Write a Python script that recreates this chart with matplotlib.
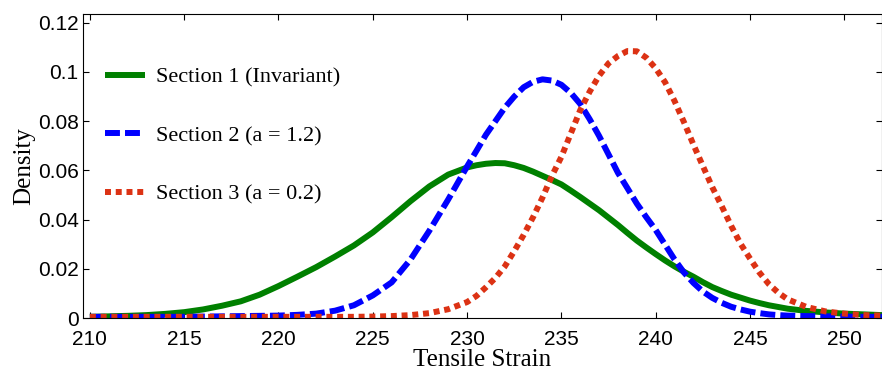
"""Density curves of tensile strain for three sections."""
import matplotlib
matplotlib.use("Agg")
import matplotlib.pyplot as plt
from matplotlib.ticker import FuncFormatter

# sample positions along the strain axis (finer near the peaks) and densities
strain = [210, 211, 212, 213, 214, 215, 216, 217, 218, 219,
          220, 221, 222, 223, 224, 225, 226, 227, 228, 229,
          230, 230.5, 231, 231.5, 232, 232.5, 233, 233.5, 234, 234.5,
          235, 235.5, 236, 236.5, 237, 237.5, 238, 238.5, 239, 239.5,
          240, 240.5, 241, 241.5, 242, 242.5, 243, 243.5, 244, 244.5,
          245, 245.5, 246, 246.5, 247,
          248, 249, 250, 251, 252]
section1 = [0.0005, 0.0007, 0.0009, 0.0012, 0.0017, 0.0024, 0.0035, 0.0050, 0.0068, 0.0095,
            0.0130, 0.0168, 0.0207, 0.0250, 0.0295, 0.0348, 0.0410, 0.0475, 0.0535, 0.0583,
            0.0612, 0.0621, 0.0627, 0.0630, 0.0629, 0.0621, 0.0610, 0.0595, 0.0578, 0.0561,
            0.0543, 0.0518, 0.0492, 0.0465, 0.0438, 0.0408, 0.0378, 0.0346, 0.0315, 0.0287,
            0.0260, 0.0234, 0.0210, 0.0188, 0.0168, 0.0146, 0.0126, 0.0110, 0.0095, 0.0083,
            0.0071, 0.0061, 0.0052, 0.0045, 0.0038,
            0.0029, 0.0023, 0.0018, 0.0015, 0.0012]
section2 = [0.0005, 0.0005, 0.0005, 0.0005, 0.0005, 0.0005, 0.0006, 0.0007, 0.0008, 0.0009,
            0.0010, 0.0013, 0.0018, 0.0030, 0.0052, 0.0092, 0.0145, 0.0238, 0.0355, 0.0482,
            0.0616, 0.0680, 0.0745, 0.0800, 0.0855, 0.0900, 0.0938, 0.0960, 0.0970, 0.0965,
            0.0948, 0.0915, 0.0870, 0.0808, 0.0740, 0.0665, 0.0590, 0.0528, 0.0465, 0.0410,
            0.0358, 0.0298, 0.0238, 0.0185, 0.0143, 0.0108, 0.0082, 0.0062, 0.0046, 0.0035,
            0.0026, 0.0020, 0.0015, 0.0012, 0.0010,
            0.0008, 0.0007, 0.0006, 0.0005, 0.0005]
section3 = [0.0005, 0.0005, 0.0005, 0.0005, 0.0005, 0.0005, 0.0005, 0.0005, 0.0005, 0.0005,
            0.0005, 0.0005, 0.0005, 0.0005, 0.0005, 0.0006, 0.0008, 0.0012, 0.0020, 0.0036,
            0.0065, 0.0090, 0.0125, 0.0163, 0.0210, 0.0272, 0.0338, 0.0410, 0.0490, 0.0578,
            0.0655, 0.0750, 0.0845, 0.0920, 0.0985, 0.1035, 0.1065, 0.1085, 0.1084, 0.1058,
            0.1015, 0.0958, 0.0882, 0.0796, 0.0705, 0.0618, 0.0532, 0.0455, 0.0375, 0.0302,
            0.0242, 0.0185, 0.0138, 0.0103, 0.0076,
            0.0045, 0.0027, 0.0018, 0.0012, 0.0010]
labels = ["Section 1 (Invariant)", "Section 2 (a = 1.2)", "Section 3 (a = 0.2)"]
xticks = [210, 215, 220, 225, 230, 235, 240, 245, 250]
yticks = [0, 0.02, 0.04, 0.06, 0.08, 0.1, 0.12]

SERIF = ["Liberation Serif", "DejaVu Serif"]
SANS = ["Liberation Sans", "DejaVu Sans"]

fig = plt.figure(figsize=(8.82, 3.72), dpi=100)
ax = fig.add_axes([0.094, 0.145, 0.906, 0.817])

lw = 4.3
ax.plot(strain, section1, color="#008000", lw=lw, solid_capstyle="butt",
        solid_joinstyle="round", label=labels[0])
ax.plot(strain, section2, color="#0000FF", lw=lw, dashes=(2.5, 0.85), dash_capstyle="butt",
        dash_joinstyle="round", label=labels[1])
ax.plot(strain, section3, color="#DC3214", lw=lw, dashes=(1.0, 0.8), dash_capstyle="butt",
        label=labels[2])

ax.set_xlim(209.63, 252.0)
ax.set_ylim(0, 0.1235)
ax.set_xticks(xticks)
ax.set_yticks(yticks)
ax.yaxis.set_major_formatter(FuncFormatter(lambda v, p: f"{v:g}"))
ax.tick_params(direction="in", top=True, right=True, length=4, width=0.8, labelsize=15)
ax.tick_params(axis="x", pad=8.5)
ax.tick_params(axis="y", pad=3)
for t in ax.get_xticklabels() + ax.get_yticklabels():
    t.set_family(SANS)

ax.set_xlabel("Tensile Strain", family=SERIF, fontsize=18, labelpad=0)
ax.set_ylabel("Density", family=SERIF, fontsize=18, labelpad=2)

ax.legend(loc="upper left", bbox_to_anchor=(0.0, 0.90), frameon=False,
          prop={"family": SERIF, "size": 16}, handlelength=1.8,
          handletextpad=0.5, labelspacing=1.72, borderaxespad=0.6)

fig.savefig("out.png", dpi=100)
